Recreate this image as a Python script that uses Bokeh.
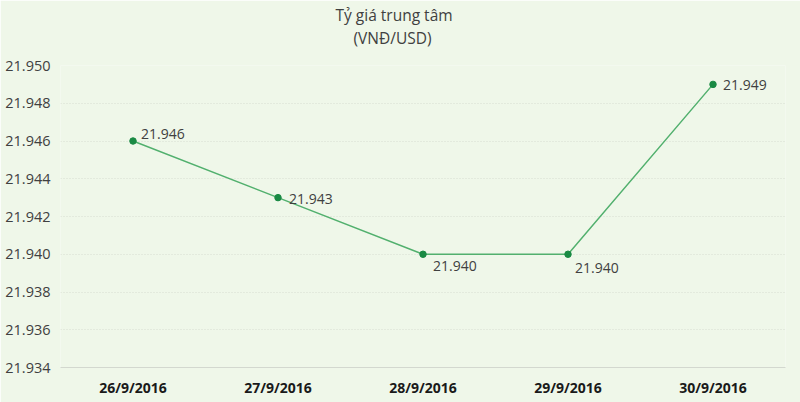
from bokeh.plotting import figure
from bokeh.models import ColumnDataSource, Title, FixedTicker, PrintfTickFormatter, Range1d
from bokeh.embed import file_html
from bokeh.resources import INLINE
from bokeh.core.properties import value

dates = ["26/9/2016", "27/9/2016", "28/9/2016", "29/9/2016", "30/9/2016"]
rates = [21.946, 21.943, 21.940, 21.940, 21.949]
rate_labels = ["21.946", "21.943", "21.940", "21.940", "21.949"]
y_ticks = [21.934, 21.936, 21.938, 21.940, 21.942, 21.944, 21.946, 21.948, 21.950]
title_lines = ["Tỷ giá trung tâm", "(VNĐ/USD)"]

# label styling offsets (pixels)
lab_dx = [8, 11, 10, 7, 10]
lab_dy = [-7, 1, 12, 14, 1]

FONT = "Open Sans"
BG = "#eff7e9"

src = ColumnDataSource(dict(x=dates, y=rates, t=rate_labels, dx=lab_dx, dy=lab_dy))

p = figure(width=800, height=402, x_range=dates, y_range=Range1d(21.934, 21.950),
           output_backend="svg", toolbar_location=None,
           min_border_left=60, min_border_right=15, min_border_top=65, min_border_bottom=35)
p.background_fill_color = BG
p.border_fill_color = BG
p.outline_line_color = None

p.line("x", "y", source=src, line_color="#52b06e", line_width=1.5)
p.scatter("x", "y", source=src, size=6.5, fill_color="#1a8a44", line_color="#1a8a44")
p.text("x", "y", text="t", source=src, x_offset="dx", y_offset="dy",
       text_font=value(FONT), text_font_size="14px", text_color="#404040",
       text_baseline="middle", text_align="left")

p.yaxis.ticker = FixedTicker(ticks=y_ticks)
p.yaxis.formatter = PrintfTickFormatter(format="%.3f")
p.yaxis.axis_line_color = None
p.yaxis.major_tick_line_color = None
p.yaxis.minor_tick_line_color = None
p.yaxis.major_label_text_font = FONT
p.yaxis.major_label_text_font_size = "14.5px"
p.yaxis.major_label_text_color = "#404040"
p.yaxis.major_label_standoff = 4

p.xaxis.axis_line_color = "#d3d8cf"
p.xaxis.major_tick_line_color = None
p.xaxis.minor_tick_line_color = None
p.xaxis.major_label_text_font = FONT
p.xaxis.major_label_text_font_size = "14px"
p.xaxis.major_label_text_font_style = "bold"
p.xaxis.major_label_text_color = "#1a1a1a"
p.xaxis.major_label_standoff = 4

p.xgrid.grid_line_color = None
p.ygrid.grid_line_color = "#d6ddd0"
p.ygrid.grid_line_dash = "1 2"
p.ygrid.grid_line_width = 1

t2 = Title(text=title_lines[1], align="left", offset=293, standoff=34,
           text_font=FONT, text_font_size="15.5px", text_font_style="normal",
           text_color="#404040")
t1 = Title(text=title_lines[0], align="left", offset=275, standoff=-36,
           text_font=FONT, text_font_size="15.5px", text_font_style="normal",
           text_color="#404040")
p.add_layout(t2, "above")
p.add_layout(t1, "above")

open("out.html", "w").write(file_html(p, INLINE))
